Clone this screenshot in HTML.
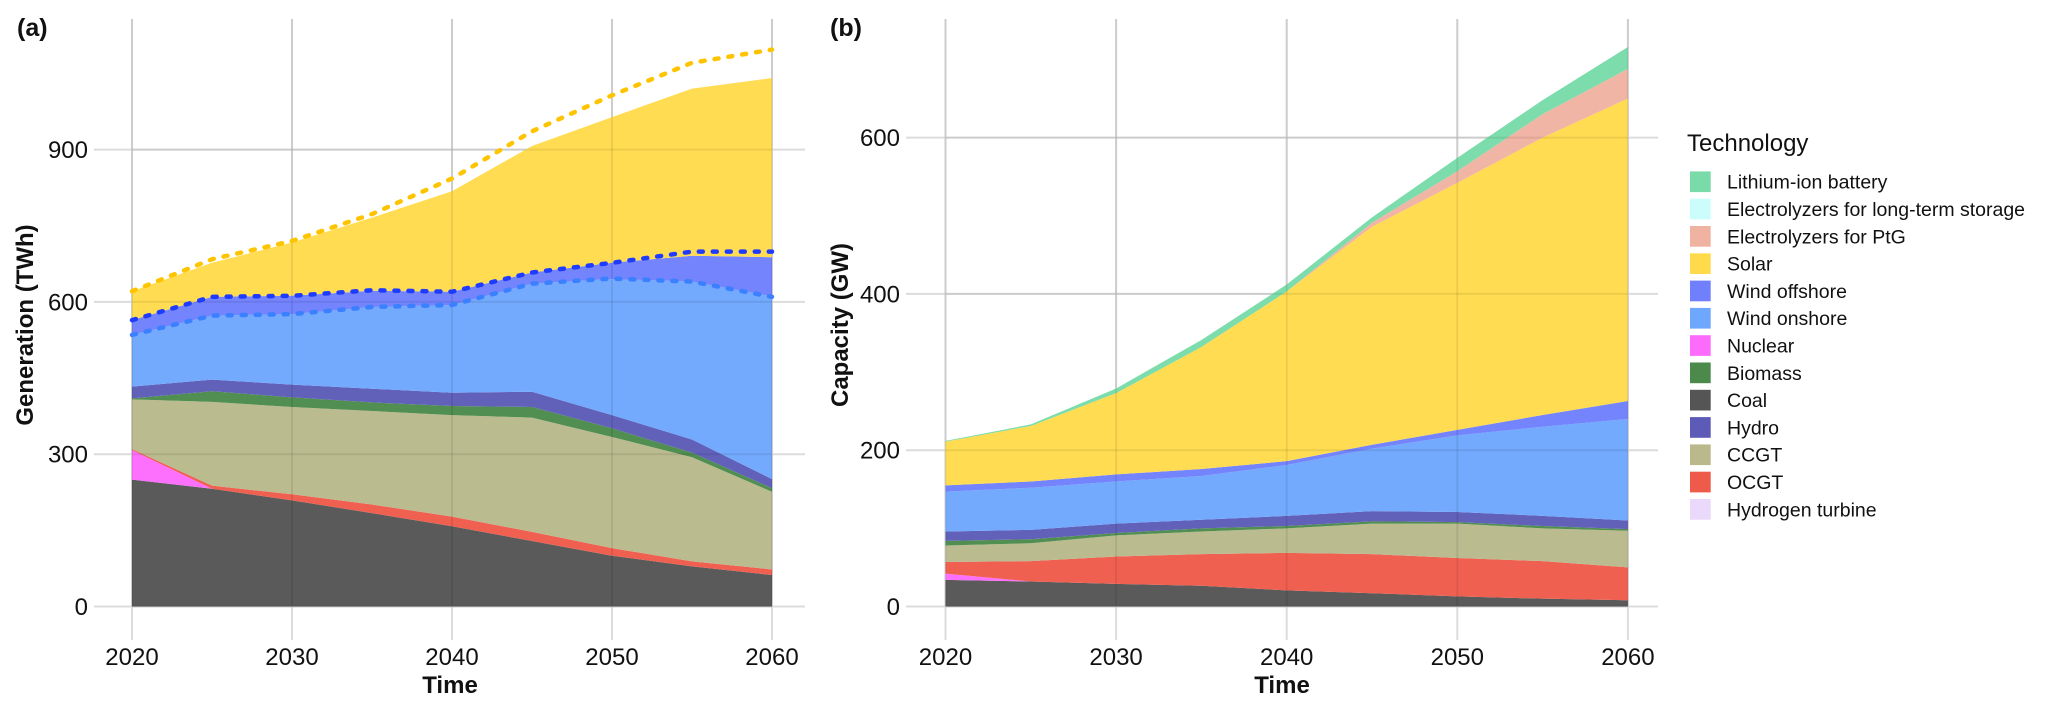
<!DOCTYPE html>
<html><head><meta charset="utf-8"><style>
html,body{margin:0;padding:0;background:#fff;}
svg{display:block;font-family:"Liberation Sans",Arial,sans-serif;}
</style></head><body>
<svg id="fig" width="2067" height="712" viewBox="0 0 2067 712" xmlns="http://www.w3.org/2000/svg"></svg>
<script>
const years = [2020,2025,2030,2035,2040,2045,2050,2055,2060];
const genTicks = [0,300,600,900];
const capTicks = [0,200,400,600];
const yearTicks = [2020,2030,2040,2050,2060];
// Panel (a) generation TWh, stacked bottom-up
const genCoal = [250,232,209,184,158,129,100,79,62];
const genNuclear = [58,0,0,0,0,0,0,0,0];
const genOCGT = [2,6,12,17,19,18,15,10,11];
const genCCGT = [98,165,172,184,200,225,219,205,153];
const genBiomass = [2,21,19,17,18,21,17,9,7];
const genHydro = [23,23,25,27,26,30,26,26,18];
const genOnshore = [102,126,139,161,173,213,268,311,360];
const genOffshore = [29,37,36,32,26,22,32,51,77];
const genSolar = [57,67,105,144,198,249,287,329,353];
const dashSolar = [621,684,720,773,843,936,1007,1071,1097];
const dashOffshore = [564,610,612,623,620,658,677,699,699];
const dashOnshore = [535,573,576,590,594,636,646,640,610];
// Panel (b) capacity GW
const capCoal = [34,32,29,26.5,20.6,17,13,10,8];
const capNuclear = [8,0,0,0,0,0,0,0,0];
const capOCGT = [15,26,35,40.5,48,50,49,48,42];
const capCCGT = [21,23,27,29,31.4,39,44,42,47];
const capBiomass = [6,5,3,4,3,3,2,3,2];
const capHydro = [12,12,12,11,13,13,13,13,11];
const capOnshore = [51,54,54,56,65,80,98,114,130];
const capOffshore = [8,8,9,9,5,5,7,15,23];
const capSolar = [56,71,104,156,217,279,316,355,387];
const capElecLT = [0,0,0,0,0,0,0,0,0];
const capPtG = [0,0,0,0,0,5,15,30,38];
const capBattery = [1,2,6,9,9,7,17,18,28];
const legendLabels = ["Lithium-ion battery","Electrolyzers for long-term storage","Electrolyzers for PtG","Solar","Wind offshore","Wind onshore","Nuclear","Biomass","Coal","Hydro","CCGT","OCGT","Hydrogen turbine"];
</script>
<script>
const NS="http://www.w3.org/2000/svg";
const svg=document.getElementById('fig');
const COL={battery:"#79dba8",eleclt:"#ccfdfd",ptg:"#f0b3a1",solar:"#ffdb4c",offshore:"#7080fd",onshore:"#6ea7fd",nuclear:"#fd6bfd",biomass:"#4b8a4b",coal:"#555555",hydro:"#5c5cb8",ccgt:"#b9b98c",ocgt:"#ef5b4b",h2:"#ead9fb"};
function mk(tag,attrs,parent){const e=document.createElementNS(NS,tag);for(const k in attrs)e.setAttribute(k,attrs[k]);(parent||svg).appendChild(e);return e;}
function txt(s,attrs,parent){const e=mk('text',attrs,parent);e.textContent=s;return e;}

function panel(cfg){
  const g=mk('g',{});
  
  
  const X=y=>cfg.x0+(y-2020)/10*cfg.dx;
  const Y=v=>cfg.y0-v*cfg.sy;
  const grid=mk('g',{},g);
  
  
  cfg.yticks.forEach(t=>{mk('line',{x1:cfg.gl,x2:cfg.gr,y1:Y(t),y2:Y(t),stroke:"#dcdcdc","stroke-width":2},grid);});
  yearTicks.forEach(t=>{mk('line',{x1:X(t),x2:X(t),y1:19,y2:640,stroke:"#dcdcdc","stroke-width":2},grid);});
  let base=years.map(()=>0);
  cfg.series.forEach(s=>{
    const top=base.map((b,i)=>b+s.v[i]);
    let d="M"+years.map((y,i)=>X(y)+","+Y(top[i])).join(" L");
    for(let i=years.length-1;i>=0;i--) d+=" L"+X(years[i])+","+Y(base[i]);
    d+=" Z";
    const p=mk('path',{d:d,fill:COL[s.k],"fill-opacity":0.97},g);
    
    
    base=top;
  });
  cfg.yticks.forEach(t=>{mk('line',{x1:X(2020),x2:X(2060),y1:Y(t),y2:Y(t),stroke:"rgba(0,0,0,0.07)","stroke-width":2},g);});
  yearTicks.forEach(t=>{mk('line',{x1:X(t),x2:X(t),y1:19,y2:cfg.y0,stroke:"rgba(0,0,0,0.07)","stroke-width":2},g);});
  (cfg.dashes||[]).forEach(ds=>{
    const l=mk('polyline',{points:years.map((y,i)=>X(y)+","+Y(ds.v[i])).join(" "),fill:"none",stroke:ds.c,"stroke-width":4.5,"stroke-dasharray":"4 10","stroke-linecap":"round"},g);
    
    
  });
  cfg.yticks.forEach(t=>{const e=txt(String(t),{x:cfg.gl-6,y:Y(t)+8.5,"text-anchor":"end","font-size":24,fill:"#111"},g);
    
    });
  yearTicks.forEach(t=>{const e=txt(String(t),{x:X(t),y:665,"text-anchor":"middle","font-size":24,fill:"#111"},g);
    
    });
  const xt=txt("Time",{x:cfg.tx,y:693,"text-anchor":"middle","font-size":24,"font-weight":"bold",fill:"#111"},g);
  
  
  const yt=txt(cfg.ytitle,{x:0,y:0,"text-anchor":"middle","font-size":24,"font-weight":"bold",fill:"#111",transform:"translate("+cfg.ytx+",325) rotate(-90)"},g);
  
  
  const lb=txt(cfg.label,{x:cfg.lx,y:36,"font-size":25,"font-weight":"bold",fill:"#111"},g);
  
  
}

panel({name:"generation-panel",x0:132,dx:160,y0:606.5,sy:152.3/300,gl:94,gr:805,yticks:genTicks,tx:450,ytx:33,ytitle:"Generation (TWh)",label:"(a)",lx:17,
 series:[{k:"coal",v:genCoal},{k:"nuclear",v:genNuclear},{k:"ocgt",v:genOCGT},{k:"ccgt",v:genCCGT},{k:"biomass",v:genBiomass},{k:"hydro",v:genHydro},{k:"onshore",v:genOnshore},{k:"offshore",v:genOffshore},{k:"solar",v:genSolar}],
 dashes:[{v:dashSolar,c:"#ffc400",n:"solar-potential-line"},{v:dashOffshore,c:"#1e3cff",n:"offshore-potential-line"},{v:dashOnshore,c:"#3a80ff",n:"onshore-potential-line"}]});

panel({name:"capacity-panel",x0:945.5,dx:170.6,y0:606.5,sy:156.3/200,gl:906,gr:1658,yticks:capTicks,tx:1282,ytx:848,ytitle:"Capacity (GW)",label:"(b)",lx:830,
 series:[{k:"coal",v:capCoal},{k:"nuclear",v:capNuclear},{k:"ocgt",v:capOCGT},{k:"ccgt",v:capCCGT},{k:"biomass",v:capBiomass},{k:"hydro",v:capHydro},{k:"onshore",v:capOnshore},{k:"offshore",v:capOffshore},{k:"solar",v:capSolar},{k:"eleclt",v:capElecLT},{k:"ptg",v:capPtG},{k:"battery",v:capBattery}]});

const lg=mk('g',{});


const lt=txt("Technology",{x:1687,y:151,"font-size":24,fill:"#111"},lg);


const keys=["battery","eleclt","ptg","solar","offshore","onshore","nuclear","biomass","coal","hydro","ccgt","ocgt","h2"];
legendLabels.forEach((l,i)=>{
  const cy=181.7+i*27.3;
  const e=mk('g',{},lg);
  
  
  mk('rect',{x:1690,y:cy-10.3,width:20.7,height:20.7,fill:COL[keys[i]]},e);
  txt(l,{x:1727,y:cy+7,"font-size":19.5,fill:"#111"},e);
});
</script>
</body></html>
